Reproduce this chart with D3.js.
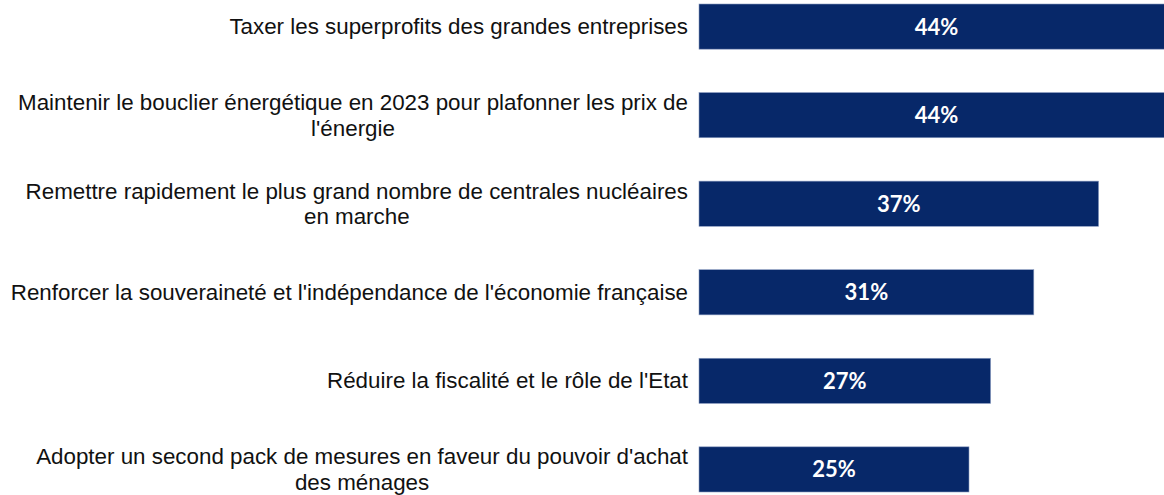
<!DOCTYPE html>
<html>
<head>
<meta charset="utf-8">
<script src="https://cdn.jsdelivr.net/npm/d3@7"></script>
<style>
  body { margin: 0; background: #fff; }
  svg { display: block; font-family: "Liberation Sans", Arial, sans-serif; }
</style>
</head>
<body>
<div id="chart"></div>
<script>
// categories (line breaks as in the original chart)
const categories = [
  "Taxer les superprofits des grandes entreprises",
  "Maintenir le bouclier énergétique en 2023 pour plafonner les prix de\nl'énergie",
  "Remettre rapidement le plus grand nombre de centrales nucléaires\nen marche",
  "Renforcer la souveraineté et l'indépendance de l'économie française",
  "Réduire la fiscalité et le rôle de l'Etat",
  "Adopter un second pack de mesures en faveur du pouvoir d'achat\ndes ménages"
];
const values = [0.44, 0.44, 0.37, 0.31, 0.27, 0.25];

const width = 1164, height = 495;
const barLeft = 699, labelRight = 688;

const svg = d3.select('#chart').append('svg')
  .attr('width', width)
  .attr('height', height);

const y = d3.scaleBand()
  .domain(categories)
  .range([4, 492])
  .paddingInner(0.49)
  .paddingOuter(0);

const x = d3.scaleLinear()
  .domain([0, 0.5])
  .range([barLeft, barLeft + 540]);

const pct = d3.format('.0%');

// Bars
svg.append('g').selectAll('rect')
  .data(categories)
  .enter().append('rect')
  .attr('x', x(0))
  .attr('y', d => y(d))
  .attr('width', (d, i) => x(values[i]) - x(0))
  .attr('height', y.bandwidth())
  .attr('fill', '#072869')
  .attr('stroke', '#8a9cc0')
  .attr('stroke-width', 0.6);

// Value labels
svg.append('g').selectAll('text')
  .data(categories)
  .enter().append('text')
  .attr('x', (d, i) => (x(0) + x(values[i])) / 2)
  .attr('y', d => y(d) + y.bandwidth() / 2)
  .attr('dy', '0.36em')
  .attr('text-anchor', 'middle')
  .attr('font-family', 'Lato, sans-serif')
  .attr('font-size', '22px')
  .attr('font-weight', 'bold')
  .attr('fill', '#fff')
  .text((d, i) => pct(values[i]));

// size the label font so the widest single-line label spans like the original
const probe = svg.append('text').attr('font-size', '20px').text(categories[0]);
const fontSize = 20 * 459 / probe.node().getComputedTextLength();
probe.remove();
const lh = 25.5;

// Category labels: wrapped lines centred on each other, block right-aligned
svg.append('g').selectAll('text')
  .data(categories)
  .enter().append('text')
  .attr('text-anchor', 'middle')
  .attr('font-size', fontSize + 'px')
  .attr('fill', '#111')
  .each(function(d) {
    const t = d3.select(this);
    const lines = d.split('\n');
    const cy = y(d) + y.bandwidth() / 2;
    const spans = lines.map((line, k) => t.append('tspan')
      .attr('y', cy + (k - (lines.length - 1) / 2) * lh)
      .attr('dy', '0.34em')
      .text(line));
    const w = d3.max(spans, s => s.node().getComputedTextLength());
    spans.forEach(s => s.attr('x', labelRight - w / 2));
  });
</script>
</body>
</html>
